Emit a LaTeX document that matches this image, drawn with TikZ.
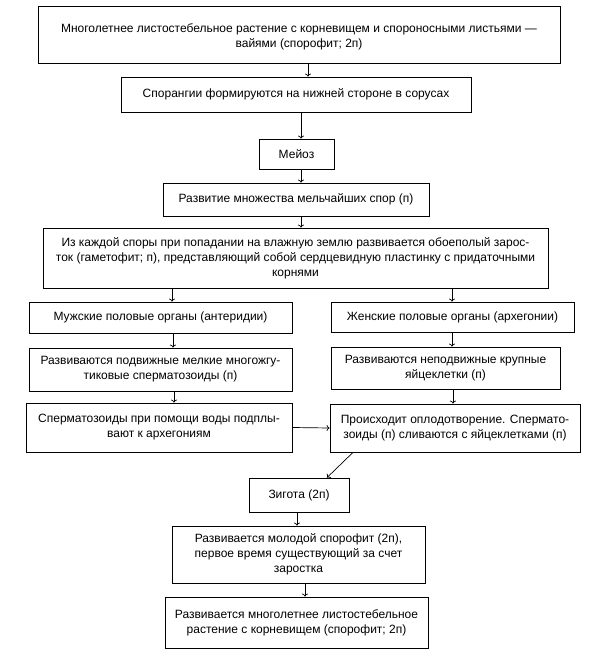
\documentclass[tikz,border=0pt]{standalone}
\usepackage{fontspec}
\setmainfont{Liberation Sans}
\usetikzlibrary{arrows.meta}
\begin{document}
\begin{tikzpicture}[x=1pt,y=-1pt,
  box/.style={draw,line width=0.8pt,align=center,inner sep=1pt,
    font=\fontsize{12}{15}\selectfont},
  arr/.style={line width=0.7pt,-{To[length=3pt,width=6pt]}}]
\useasboundingbox[fill=white] (0,0) rectangle (595,652);
\node[box,minimum width=522,minimum height=57] (b1) at (299,34.5)
  {\rule{0pt}{14pt}Многолетнее листостебельное растение с корневищем и спороносными листьями —\\вайями (спорофит; 2п)};
\node[box,minimum width=350,minimum height=35] (b2) at (296,94.5)
  {Спорангии формируются на нижней стороне в сорусах};
\node[box,minimum width=75,minimum height=30] (b3) at (296.5,154) {Мейоз};
\node[box,minimum width=266,minimum height=33] (b4) at (296,199.5)
  {Развитие множества мельчайших спор (п)};
\node[box,minimum width=505,minimum height=60] (b5) at (295.5,258)
  {Из каждой споры при попадании на влажную землю развивается обоеполый зарос-\\ток (гаметофит; п), представляющий собой сердцевидную пластинку с придаточными\\корнями};
\node[box,minimum width=263,minimum height=31] (b6l) at (160.5,317.5)
  {Мужские половые органы (антеридии)};
\node[box,minimum width=243,minimum height=30] (b6r) at (452.5,317)
  {Женские половые органы (архегонии)};
\node[box,minimum width=263,minimum height=43] (b7l) at (160.5,369.5)
  {Развиваются подвижные мелкие многожгу-\\тиковые сперматозоиды (п)};
\node[box,minimum width=229,minimum height=42] (b7r) at (445.5,368)
  {Развиваются неподвижные крупные\\яйцеклетки (п)};
\node[box,minimum width=266,minimum height=49] (b8l) at (159,427.5)
  {Сперматозоиды при помощи воды подплы-\\вают к архегониям};
\node[box,minimum width=250,minimum height=48] (b8r) at (455,428)
  {Происходит оплодотворение. Спермато-\\зоиды (п) сливаются с яйцеклетками (п)};
\node[box,minimum width=100,minimum height=34] (b9) at (299,495) {Зигота (2п)};
\node[box,minimum width=253,minimum height=57] (b10) at (298.5,554.5)
  {Развивается молодой спорофит (2п),\\первое время существующий за счет\\заростка};
\node[box,minimum width=263,minimum height=51] (b11) at (296.5,622.5)
  {Развивается многолетнее листостебельное\\растение с корневищем (спорофит; 2п)};
\draw[arr] (b1.south -| 308,0) -- (b2.north -| 308,0);
\draw[arr] (b2.south -| 301,0) -- (b3.north -| 301,0);
\draw[arr] (b3.south -| 301,0) -- (b4.north -| 301,0);
\draw[arr] (b4.south -| 301,0) -- (b5.north -| 301,0);
\draw[arr] (b5.south -| 172,0) -- (b6l.north -| 172,0);
\draw[arr] (b5.south -| 452,0) -- (b6r.north -| 452,0);
\draw[arr] (b6l.south -| 173,0) -- (b7l.north -| 173,0);
\draw[arr] (b6r.south -| 452,0) -- (b7r.north -| 452,0);
\draw[arr] (b7l.south -| 174,0) -- (b8l.north -| 174,0);
\draw[arr] (b7r.south -| 453,0) -- (b8r.north -| 453,0);
\draw[arr] (b8l.east) -- (b8r.west);
\draw[arr] (b8r.south -| 353,0) -- (b9.north -| 327,0);
\draw[arr] (b9.south -| 297,0) -- (b10.north -| 297,0);
\draw[arr] (b10.south -| 305,0) -- (b11.north -| 305,0);
\end{tikzpicture}
\end{document}
